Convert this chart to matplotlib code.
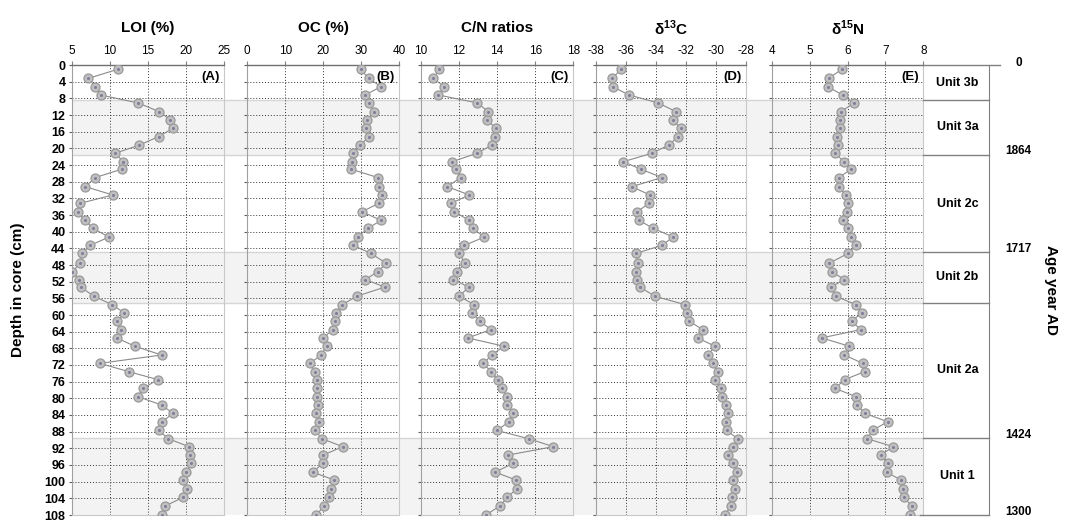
import matplotlib
matplotlib.use("Agg")
import matplotlib.pyplot as plt

plt.rcParams['font.family'] = ['Liberation Sans', 'DejaVu Sans']
plt.rcParams['axes.unicode_minus'] = False
plt.rcParams['mathtext.fontset'] = 'custom'
plt.rcParams['mathtext.rm'] = 'Liberation Sans:bold'

# sample depths (cm) shared by all proxies
depth = [1.0, 3.2, 5.2, 7.2, 9.1, 11.2, 13.1, 15.2, 17.2, 19.2, 21.2, 23.2, 25.0, 27.0,
         29.2, 31.2, 33.2, 35.2, 37.3, 39.2, 41.3, 43.3, 45.2, 47.6, 49.6, 51.5, 53.3,
         55.5, 57.5, 59.5, 61.5, 63.5, 65.5, 67.5, 69.6, 71.6, 73.6, 75.5, 77.6, 79.6,
         81.6, 83.6, 85.6, 87.7, 89.7, 91.6, 93.6, 95.6, 97.7, 99.6, 101.7, 103.8, 105.8, 108.0]

loi = [11.1, 7.2, 8.1, 8.8, 13.7, 16.5, 17.9, 18.3, 16.4, 13.9, 10.7, 11.8, 11.6, 8.1,
       6.8, 10.4, 6.1, 5.8, 6.7, 7.8, 9.9, 7.4, 6.4, 6.1, 5.1, 6.0, 6.2, 7.9, 10.3, 11.9,
       10.9, 11.5, 10.9, 13.3, 16.8, 8.7, 12.5, 16.3, 14.4, 13.7, 16.8, 18.3, 16.9, 16.4,
       17.7, 20.4, 20.6, 20.7, 20.0, 19.6, 20.2, 19.6, 17.3, 16.8]

oc = [29.8, 31.9, 35.2, 31.0, 32.0, 33.4, 31.6, 31.2, 32.1, 29.7, 27.9, 27.6, 27.3, 34.3,
      34.7, 35.5, 34.6, 30.2, 35.2, 31.7, 29.0, 27.9, 32.5, 36.6, 34.3, 31.1, 36.2, 28.8,
      25.0, 23.3, 23.1, 22.5, 20.0, 20.9, 19.4, 16.5, 17.8, 18.4, 18.4, 18.4, 18.5, 18.2,
      18.9, 17.9, 19.7, 25.1, 20.0, 19.9, 17.2, 22.9, 21.9, 21.4, 20.2, 18.2]

cn = [10.97, 10.65, 11.23, 10.92, 12.96, 13.54, 13.45, 13.94, 13.89, 13.75, 12.93, 11.65,
      11.83, 12.09, 11.39, 12.54, 11.58, 11.75, 12.54, 12.72, 13.33, 12.28, 12.02, 12.31,
      11.91, 11.70, 12.52, 12.00, 12.80, 12.70, 13.10, 13.68, 12.46, 14.36, 13.72, 13.28,
      13.68, 14.03, 14.27, 14.50, 14.54, 14.85, 14.64, 13.98, 15.67, 16.95, 14.59, 14.85,
      13.89, 14.99, 15.02, 14.54, 14.15, 13.42]

d13c = [-36.33, -36.91, -36.89, -35.80, -33.85, -32.67, -32.89, -32.36, -32.56, -33.13,
        -34.29, -36.18, -35.02, -33.60, -35.62, -34.40, -34.47, -35.24, -35.13, -34.18,
        -32.85, -33.62, -35.33, -35.18, -35.36, -35.29, -35.07, -34.07, -32.07, -31.91,
        -31.78, -30.89, -31.22, -30.07, -30.56, -30.22, -29.89, -30.04, -29.67, -29.58,
        -29.33, -29.22, -29.33, -29.29, -28.56, -28.84, -29.22, -28.84, -28.58, -28.89,
        -28.73, -28.96, -29.00, -29.40]

d15n = [5.85, 5.51, 5.48, 5.87, 6.17, 5.83, 5.80, 5.79, 5.71, 5.74, 5.67, 5.91, 6.09, 5.78,
        5.78, 5.95, 6.02, 5.98, 5.87, 6.02, 6.09, 6.22, 6.02, 5.51, 5.58, 5.92, 5.56, 5.69,
        6.22, 6.37, 6.11, 6.35, 5.32, 6.05, 5.92, 6.40, 6.45, 5.93, 5.67, 6.22, 6.26, 6.45,
        7.06, 6.66, 6.52, 7.21, 6.88, 7.06, 7.03, 7.41, 7.47, 7.49, 7.69, 7.66]

unit_names = ['Unit 3b', 'Unit 3a', 'Unit 2c', 'Unit 2b', 'Unit 2a', 'Unit 1']
unit_bounds = [0, 8.5, 21.5, 45, 57, 89.5, 108]
shaded_units = ['Unit 3a', 'Unit 2b', 'Unit 1']
age_depths = [0, 21.5, 45, 89.5, 108]
age_labels = ['0', '1864', '1717', '1424', '1300']

titles = ['LOI (%)', 'OC (%)', 'C/N ratios',
          r'δ$^{\mathrm{13}}$C', r'δ$^{\mathrm{15}}$N']
letters = ['(A)', '(B)', '(C)', '(D)', '(E)']
xlims = [(5, 25), (0, 40), (10, 18), (-38, -28), (4, 8)]
xticks = [[5, 10, 15, 20, 25], [0, 10, 20, 30, 40], [10, 12, 14, 16, 18],
          [-38, -36, -34, -32, -30, -28], [4, 5, 6, 7, 8]]
series = [loi, oc, cn, d13c, d15n]
yticks = list(range(0, 109, 4))

W, H = 1065, 520
fig = plt.figure(figsize=(W / 100, H / 100), dpi=100)

top_px, bot_px = 65, 515
px_x = [(71.7, 224), (247.3, 399.3), (420.9, 573.3), (596, 746), (771.7, 923.3)]
unit_x = (923.3, 989)


def rect(x0, x1):
    return [x0 / W, 1 - bot_px / H, (x1 - x0) / W, (bot_px - top_px) / H]


# background bands across all panels
bg = fig.add_axes(rect(px_x[0][0], unit_x[0]), zorder=0)
bg.set_ylim(108, 0)
bg.set_xlim(0, 1)
bg.axis('off')
for i, name in enumerate(unit_names):
    if name in shaded_units:
        bg.axhspan(unit_bounds[i], unit_bounds[i + 1], color='#f3f3f3', lw=0)
        for yb in (unit_bounds[i], unit_bounds[i + 1]):
            if yb < 108:
                bg.axhline(yb, color='#d6d6d6', lw=1.0)

for k in range(5):
    ax = fig.add_axes(rect(*px_x[k]), zorder=1)
    ax.set_facecolor('none')
    ax.plot(series[k], depth, '-', color='#8a8a8a', lw=0.8, zorder=3,
            marker='o', ms=6.5, mfc='#c0c0c0', mec='#999999', mew=0.9)
    ax.plot(series[k], depth, 'o', ms=1.2, color='#7f7f9a', zorder=4)
    ax.set_xlim(*xlims[k])
    ax.set_ylim(108, 0)
    ax.set_xticks(xticks[k])
    ax.set_yticks(yticks)
    ax.xaxis.tick_top()
    ax.tick_params(axis='x', labelsize=8.5, length=3, pad=3, color='#808080')
    ax.tick_params(axis='y', labelsize=9, length=2.5, pad=2, color='#606060',
                   labelleft=(k == 0))
    if k == 0:
        for t in ax.get_yticklabels():
            t.set_fontweight('bold')
    ax.grid(True, color='#333333', lw=0.7, linestyle=(0, (1, 2)))
    ax.spines['top'].set_color('#707070')
    ax.spines['top'].set_linewidth(1.0)
    ax.spines['left'].set_color('#a0a0a0')
    ax.spines['right'].set_color('#c8c8c8')
    ax.spines['bottom'].set_color('#c8c8c8')
    ax.text(0.97, 2.9, letters[k], transform=ax.get_yaxis_transform(),
            ha='right', va='center', fontsize=9.5, fontweight='bold')
    cx = (px_x[k][0] + px_x[k][1]) / 2 / W
    fig.text(cx, 1 - 28 / H, titles[k], ha='center', va='center',
             fontsize=11, fontweight='bold')

# lithological units column
ua = fig.add_axes(rect(*unit_x), zorder=1)
ua.set_facecolor('none')
ua.set_xlim(0, 1)
ua.set_ylim(108, 0)
ua.set_xticks([])
ua.set_yticks([])
for s in ('left', 'top', 'bottom'):
    ua.spines[s].set_visible(False)
ua.spines['right'].set_color('#808080')
for i, name in enumerate(unit_names):
    y0, y1 = unit_bounds[i], unit_bounds[i + 1]
    ua.text(0.52, (y0 + y1) / 2, name, ha='center', va='center',
            fontsize=9, fontweight='bold')
    if 0 < y0:
        ua.plot([0, 1], [y0, y0], color='#808080', lw=1.0, clip_on=False)
ua.plot([0, 1.17], [0, 0], color='#808080', lw=1.0, clip_on=False)
ua.plot([-0.05, 1], [108, 108], color='#808080', lw=1.0, clip_on=False)
for yd, lab in zip(age_depths, age_labels):
    ua.text(1.45, yd - 0.8 if yd > 0 else -0.5, lab, ha='center', va='center',
            fontsize=8.5, fontweight='bold')

fig.text(18 / W, 1 - 290 / H, 'Depth in core (cm)', rotation=90, ha='center',
         va='center', fontsize=11, fontweight='bold')
fig.text(1051 / W, 1 - 290 / H, 'Age year AD', rotation=-90, ha='center',
         va='center', fontsize=11, fontweight='bold')

fig.savefig('out.png', dpi=100)
